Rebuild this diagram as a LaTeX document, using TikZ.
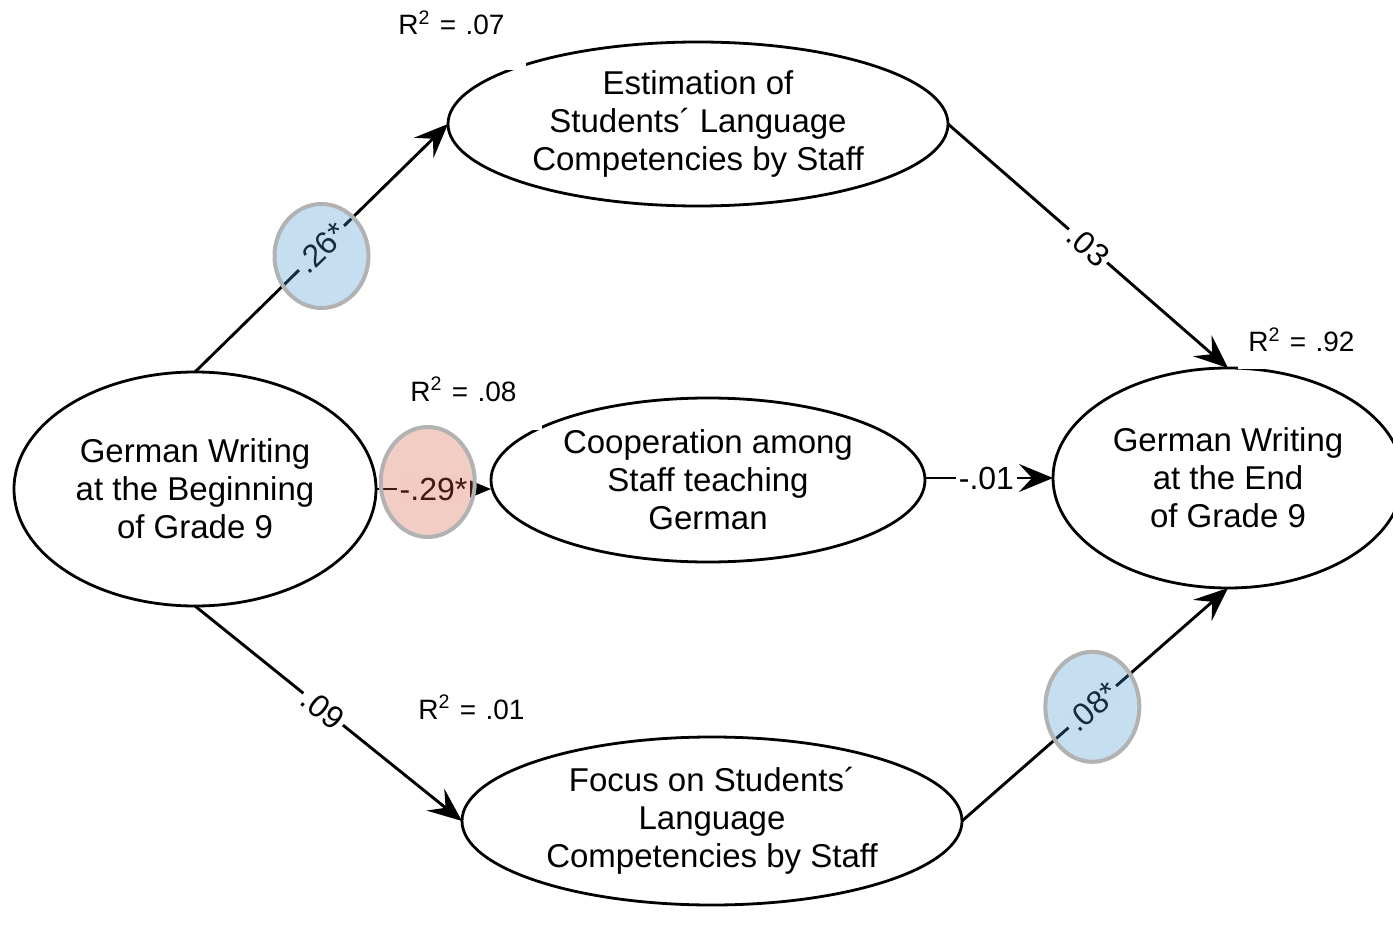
\documentclass[tikz,border=0pt]{standalone}
\usepackage{fontspec}
\setmainfont{Liberation Sans}
\usetikzlibrary{shapes.geometric,arrows.meta}
\definecolor{sigblue}{RGB}{62,145,205}
\definecolor{sigred}{RGB}{212,88,55}
\definecolor{ovalrim}{RGB}{178,178,178}

\begin{document}
\begin{tikzpicture}[x=0.5pt,y=-0.5pt,
  construct/.style={ellipse, draw, line width=1.4pt, inner sep=0pt, outer sep=0pt,
    align=center, font=\fontsize{16.5}{19}\selectfont},
  link/.style={line width=1.45pt, -{Stealth[length=17pt,width=14pt,inset=6.5pt]}},
  coef/.style={fill=white, inner sep=1.5pt, sloped, font=\fontsize{16}{18}\selectfont},
  sigoval/.style={ellipse, draw=ovalrim, line width=2pt, fill opacity=0.3,
    inner sep=0pt, minimum width=47pt},
  rsq/.style={fill=white, inner xsep=5pt, inner ysep=8.5pt, text width=59pt,
    align=left, anchor=base west, font=\fontsize{14}{16}\selectfont}
]
\useasboundingbox (0,0) rectangle (1393,925);

% latent constructs
\node[construct, minimum width=181pt, minimum height=117pt] (L) at (195,489)
  {German Writing\\at the Beginning\\of Grade 9};
\node[construct, minimum width=250pt, minimum height=82pt] (T) at (698,124)
  {Estimation of\\Students´ Language\\Competencies by Staff};
\node[construct, minimum width=217pt, minimum height=82pt] (M) at (708,480)
  {Cooperation among\\Staff teaching\\German};
\node[construct, minimum width=250pt, minimum height=84pt] (B) at (712,821)
  {Focus on Students´\\Language\\Competencies by Staff};
\node[construct, minimum width=175pt, minimum height=110pt] (R) at (1228,478)
  {German Writing\\at the End\\of Grade 9};

% explained variance (boxes sit over the construct outlines)
\node[rsq, text depth=9pt] (r1) at (388,35) {R\textsuperscript{2} = .07};
\node[rsq, text depth=6pt, text width=61pt] (r2) at (400,401) {R\textsuperscript{2} = .08};
\node[rsq] (r3) at (408,719) {R\textsuperscript{2} = .01};
\node[rsq] (r4) at (1238,352) {R\textsuperscript{2} = .92};

% paths with standardized coefficients
\draw[link] (L.north) -- node[coef, pos=.5] {.26*}
  node[sigoval, pos=.5, fill=sigblue, minimum height=52pt, yshift=-4pt] {} (T.west);
\draw[link] (L.east) -- node[coef, pos=.5] {-.29*}
  node[sigoval, pos=.45, fill=sigred, minimum height=55pt, yshift=3.5pt] {} (L.east -| M.west);
\draw[link] (L.south) -- node[coef, pos=.48] {.09} (B.west);
\draw[link] (T.east) -- node[coef, pos=.5] {.03} (R.north);
\draw[link] (M.east |- R.west) -- node[coef, pos=.48] {-.01} (R.west);
\draw[link] (B.east) -- node[coef, pos=.49] {.08*}
  node[sigoval, pos=.49, fill=sigblue, minimum height=55pt] {} (R.south);
\end{tikzpicture}
\end{document}
